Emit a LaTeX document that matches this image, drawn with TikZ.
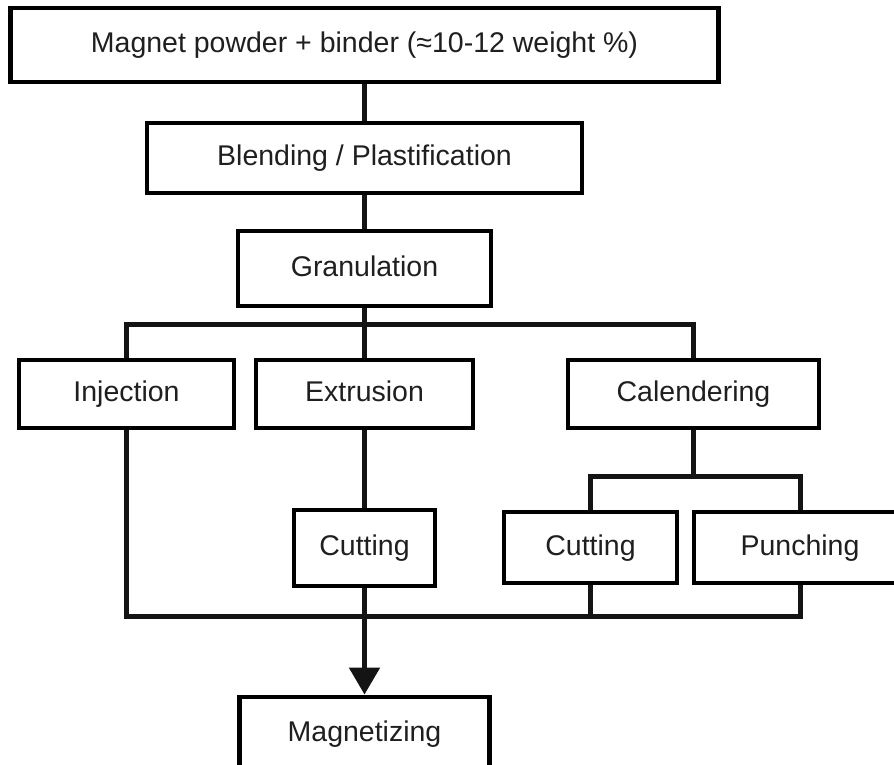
\documentclass[tikz,border=0pt]{standalone}
\usepackage{fontspec}
\setmainfont{Liberation Sans}
\usetikzlibrary{arrows.meta}
\begin{document}
\begin{tikzpicture}[x=1pt,y=-1pt,
  box/.style={draw=black, line width=4.8pt, inner sep=0pt, fill=white,
    text=black!88, font=\fontsize{28.5}{34}\selectfont,
    text height=20.5pt, text depth=5.5pt},
  conn/.style={draw=black!92, line width=5pt},
  arr/.style={conn, -{Triangle[width=30pt 0 0, length=27pt 0 0]}}]
\useasboundingbox (0,0) rectangle (894,765);
\clip (0,0) rectangle (894,765);
\fill[white] (0,0) rectangle (894,765);
% nodes
\node[box, minimum width=708pt, minimum height=74pt] (top) at (364.5,45) {Magnet powder + binder (≈10-12 weight \%)};
\node[box, minimum width=435pt, minimum height=70pt] (blend) at (364.5,158) {Blending / Plastification};
\node[box, minimum width=253pt, minimum height=75pt] (gran) at (364.5,268.5) {Granulation};
\node[box, minimum width=215pt, minimum height=68pt] (inj) at (126.5,394) {Injection};
\node[box, minimum width=217pt, minimum height=68pt] (ext) at (364.5,394) {Extrusion};
\node[box, minimum width=251pt, minimum height=68pt] (cal) at (693.5,394) {Calendering};
\node[box, minimum width=141pt, minimum height=76pt] (cut1) at (364.5,548) {Cutting};
\node[box, minimum width=173pt, minimum height=71pt] (cut2) at (590.5,547.5) {Cutting};
\node[box, minimum width=212pt, minimum height=71pt] (punch) at (800,547.5) {Punching};
\node[box, minimum width=250pt, minimum height=74pt] (mag) at (364.5,734) {Magnetizing};
% junctions
\coordinate (b1) at (364.5,324);
\coordinate (b2) at (693.5,476);
\coordinate (b3) at (364.5,616);
% connectors
\draw[conn] (top) -- (blend);
\draw[conn] (blend) -- (gran);
\draw[conn] (gran) -- (b1);
\draw[conn] (inj.north) |- (b1) -| (cal.north);
\draw[conn] (b1) -- (ext.north);
\draw[conn] (ext) -- (cut1);
\draw[conn] (cal) -- (b2);
\draw[conn] (cut2.north) |- (b2) -| (punch.north);
\draw[conn] (inj.south) |- (b3) -| (punch.south);
\draw[conn] (cut1) -- (b3);
\draw[conn] (cut2.south) -- (cut2.south |- b3);
\draw[arr] (b3) -- (mag.north);
\end{tikzpicture}
\end{document}
